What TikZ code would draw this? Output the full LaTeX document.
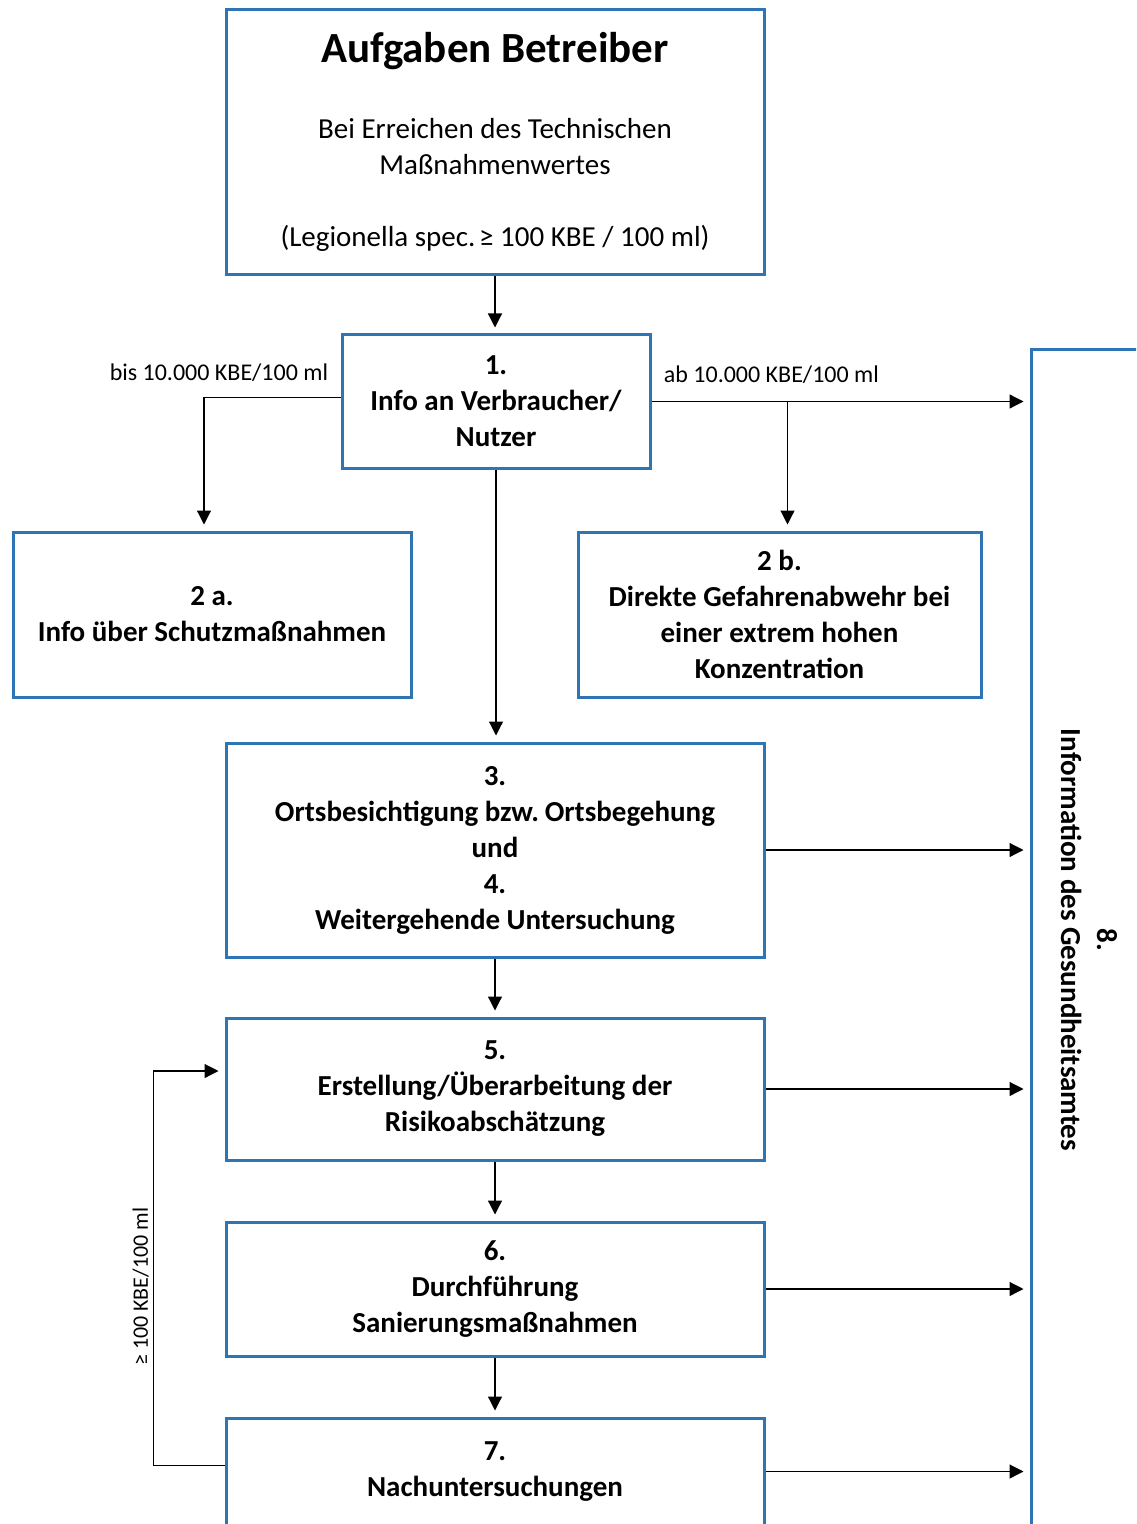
\documentclass[tikz,border=0pt]{standalone}
\usepackage{fontspec}
\setmainfont{Carlito}
\usetikzlibrary{positioning,calc,arrows.meta}
\definecolor{boxblue}{HTML}{2E75B6}
\definecolor{ink}    {HTML}{000000}
\tikzset{
  % --- nodes
  blk/.style  = {draw=boxblue, line width=1.5pt, fill=white, align=center, inner sep=0pt,
                 font=\fontsize{14.5}{18}\selectfont\bfseries},
  lbl/.style  = {font=\fontsize{12}{14}\selectfont, inner sep=2pt, text=ink},
  % --- edges
  e/.style    = {-{Triangle[length=7pt,width=7pt]}, line width=0.6pt, draw=ink, shorten >=3pt},
}
\begin{document}
\begin{tikzpicture}[x=0.5pt,y=-0.5pt]
  \clip (0,0) rectangle (1136,1524);
  \node[blk, font=\fontsize{14.5}{18}\selectfont, minimum width=269pt, minimum height=132.5pt] (top) at (495,142)
    {{\fontsize{21.5}{24}\selectfont\bfseries Aufgaben Betreiber}\\[20pt]
     Bei Erreichen des Technischen\\Maßnahmenwertes\\[18pt](Legionella spec.\kern-2.5pt{} ≥ 100 KBE / 100 ml)};
  \node[blk, minimum width=154pt, minimum height=66.5pt] (n1) at (496,401.5) {1.\\Info an Verbraucher/\\Nutzer};
  \node[blk, minimum width=199pt, minimum height=82.5pt] (n2a) at (212,614.5) {2 a.\\Info über Schutzmaßnahmen};
  \node[blk, minimum width=201.5pt, minimum height=82.5pt] (n2b) at (779.5,614.5) {2 b.\\Direkte Gefahrenabwehr bei\\einer extrem hohen\\Konzentration};
  \node[blk, minimum width=269pt, minimum height=107pt] (n3) at (495,850) {3.\\Ortsbesichtigung bzw.\kern-1.5pt{} Ortsbegehung\\und\\4.\\Weitergehende Untersuchung};
  \node[blk, minimum width=269pt, minimum height=71pt] (n5) at (495,1089) {5.\\Erstellung/Überarbeitung der\\Risikoabschätzung};
  \node[blk, minimum width=269pt, minimum height=67pt] (n6) at (495,1289) {6.\\Durchführung\\Sanierungsmaßnahmen};
  \node[blk, minimum width=269pt, minimum height=53.5pt] (n7) at (495,1471.5) {7.\\Nachuntersuchungen};
  \node[blk, rotate=-90, minimum width=590pt, minimum height=58pt] (b8) at (1089,940) {8.\\Information des Gesundheitsamtes};

  \foreach \a/\b in {top/n1,n1/n3,n3/n5,n5/n6,n6/n7} \draw[e] (\a.south) -- (\a.south |- \b.north);
  % b8 is turned, its south side faces left
  \foreach \n in {n1,n3,n5,n6,n7} \draw[e] (\n.east) -- (\n.east -| b8.south);

  \draw[e] ([yshift=2pt]n1.west) -| ([xshift=-4pt]n2a.north);
  \draw[e] ([xshift=4pt]n2b.north |- n1.east) -- ([xshift=4pt]n2b.north);
  \node[lbl, above left=8pt and 4pt of n1.west] (lbis) {bis 10.000 KBE/100 ml};
  \node[lbl, above right=7pt and 4pt of n1.east] (lab) {ab 10.000 KBE/100 ml};

  \draw[e] ([yshift=3pt]n7.west) -- ++(-35.5pt,0) |- node[lbl, font=\fontsize{11}{13}\selectfont, rotate=90, above=6.5pt, pos=0.21] (lrep) {≥ 100 KBE/100 ml}
        ([yshift=9pt]n5.west);
\end{tikzpicture}
\end{document}
